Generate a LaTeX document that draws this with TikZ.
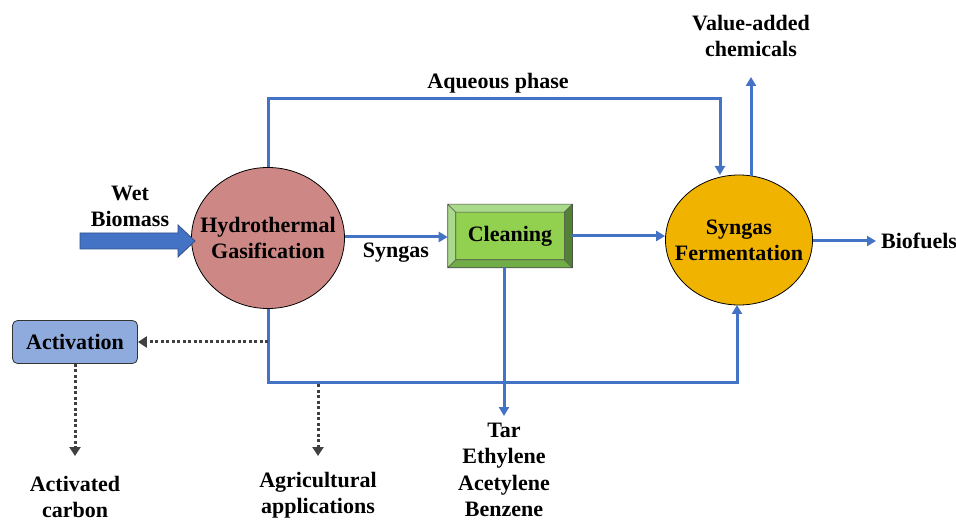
\documentclass[tikz,border=0pt]{standalone}
\usepackage{fontspec}
\setmainfont{Liberation Serif}
\usetikzlibrary{arrows.meta,shapes.geometric,calc}
\definecolor{lblue}{HTML}{4472C4}
\definecolor{pinkred}{HTML}{CD8886}
\definecolor{ferm}{HTML}{F0B400}
\definecolor{actfill}{HTML}{8FAADC}
\definecolor{dgray}{HTML}{404040}
\definecolor{gface}{HTML}{92D050}
\definecolor{glight}{HTML}{A9D98A}
\definecolor{gmid}{HTML}{70AD47}
\definecolor{gdark}{HTML}{548235}
\begin{document}
\begin{tikzpicture}[x=1pt,y=-1pt,
  txt/.style={font=\fontsize{22}{26}\selectfont\bfseries, align=center, inner sep=0pt},
  flow/.style={draw=lblue, line width=3pt, -{Triangle[length=9pt,width=10pt]}},
  dotflow/.style={draw=dgray, line width=3pt, dash pattern=on 3pt off 2.5pt, -{Triangle[length=9pt,width=11pt]}},
  proc/.style={ellipse, draw=black, line width=0.8pt, inner sep=0pt}]
\useasboundingbox (0,0) rectangle (956,521);

% main nodes
\node[proc, fill=pinkred, minimum width=153pt, minimum height=141pt] (hg) at (268,238) {};
\node[txt] (hgtxt) at (hg.center) {Hydrothermal\\Gasification};
\node[proc, fill=ferm, minimum width=147pt, minimum height=130pt] (sf) at (739,240) {};
\node[txt] (sftxt) at (sf.center) {Syngas\\Fermentation};

% cleaning box with bevel
\node[draw=black!70, line width=0.6pt, fill=gface, minimum width=124pt, minimum height=63pt, inner sep=0pt] (cl) at (510,236) {};
\coordinate (o1) at (cl.north west); \coordinate (o2) at (cl.north east);
\coordinate (o3) at (cl.south east); \coordinate (o4) at (cl.south west);
\coordinate (i1) at ($(cl.north west)+(8,8)$); \coordinate (i2) at ($(cl.north east)+(-8,8)$);
\coordinate (i3) at ($(cl.south east)+(-8,-8)$); \coordinate (i4) at ($(cl.south west)+(8,-8)$);
\fill[glight] (o1) -- (o2) -- (i2) -- (i1) -- cycle;
\fill[glight] (o1) -- (i1) -- (i4) -- (o4) -- cycle;
\fill[gdark] (o2) -- (o3) -- (i3) -- (i2) -- cycle;
\fill[gmid] (o4) -- (i4) -- (i3) -- (o3) -- cycle;
\draw[draw=black!70, line width=0.6pt] (o1) rectangle (o3) (i1) rectangle (i3)
  (o1) -- (i1) (o2) -- (i2) (o3) -- (i3) (o4) -- (i4);
\node[txt] (cltxt) at (cl.center) {Cleaning};

% activation
\node[draw=black!80, line width=0.8pt, fill=actfill, rounded corners=5pt, minimum width=125pt, minimum height=43pt, txt] (act) at (75,342) {Activation};

% labels
\node[txt] (wet) at (130,206) {Wet\\Biomass};
\node[txt] (syn) at (396,253) {Syngas};
\node[txt] (aq) at (498,83) {Aqueous phase};
\node[txt] (va) at (751,36) {Value-added\\chemicals};
\node[txt, anchor=west] (bio) at (881,241) {Biofuels};
\node[txt] (ac) at (75,497) {Activated\\carbon};
\node[txt] (ag) at (318,495) {Agricultural\\applications};
\node[txt, font=\fontsize{22}{26.5}\selectfont\bfseries] (tar) at (504,470) {Tar\\Ethylene\\Acetylene\\Benzene};

% wet biomass arrow
\draw[draw=lblue!70!black, line width=0.8pt, fill=lblue]
  (80,233) -- (178,233) -- (178,225) -- (195,241) -- (178,257) -- (178,249) -- (80,249) -- cycle;

% flows
\coordinate (aqL) at (268,99); \coordinate (aqR) at (720,99);
\draw[flow] (hg.north) -- (aqL) -- (aqR) -- (720,175);
\coordinate (vatop) at (751,77);
\draw[flow] (751,176) -- (vatop);
\draw[flow] (hg.east |- 0,237) -- (cl.west |- 0,237);
\draw[flow] (cl.east |- 0,236) -- (sf.west |- 0,236);
\coordinate (bioS) at (876,241);
\draw[flow] (sf.east |- 0,241) -- (bioS);
\coordinate (botL) at (268,382); \coordinate (botR) at (737,382);
\draw[flow] (hg.south) -- (botL) -- (botR) -- (737,305);
\coordinate (tarTop) at (504,416);
\draw[flow] (504,267) -- (tarTop);

% dotted
\coordinate (dstart) at (268,342);
\draw[dotflow] (dstart) -- (act.east);
\coordinate (acEnd) at (75,456);
\draw[dotflow] (act.south) -- (acEnd);
\coordinate (agS) at (318,384); \coordinate (agE) at (318,456);
\draw[dotflow] (agS) -- (agE);
\end{tikzpicture}
\end{document}
